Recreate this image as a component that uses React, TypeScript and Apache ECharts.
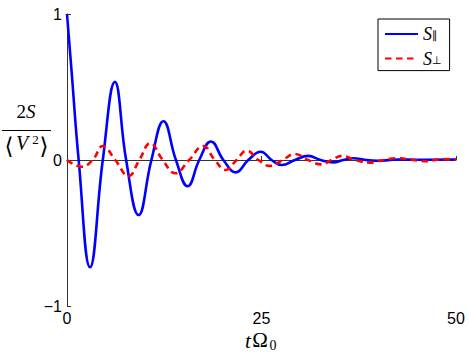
import React, { useEffect, useRef } from "react";
import * as echarts from "echarts";

// S_parallel (blue, solid): time points and values
const tPar = [0, 0.6, 1.5, 2.96, 4.6, 6.15, 7.6, 9.2, 10.85, 12.4, 14.0, 15.5, 17.0, 18.5, 20.1, 21.7, 23.3, 24.9, 26.3, 27.6, 29.3, 31.0, 32.6, 34.2, 35.5, 36.8, 38.4, 40.0, 42.5, 45.0, 50.0];
const sPar = [1.0, 0.6, 0.0, -0.735, 0.0, 0.535, 0.0, -0.377, 0.0, 0.265, 0.0, -0.18, 0.0, 0.127, 0.0, -0.085, 0.0, 0.057, 0.0, -0.034, 0.0, 0.028, 0.0, -0.016, 0.0, 0.012, 0.0, -0.005, 0.003, 0.002, 0.003];

// S_perp (red, dashed)
const tPerp = [0, 1.9, 3.3, 4.6, 6.2, 7.9, 9.3, 10.7, 12.3, 13.9, 15.7, 17.5, 19.0, 20.4, 21.8, 23.1, 24.6, 26.1, 27.7, 29.3, 31.0, 32.7, 34.0, 35.3, 37.1, 38.9, 40.7, 42.6, 44.5, 46.4, 47.3, 48.3, 50.0];
const sPerp = [0.0, -0.046, 0.0, 0.096, 0.0, -0.11, 0.0, 0.115, 0.0, -0.091, 0.0, 0.096, 0.0, -0.068, 0.0, 0.064, 0.0, -0.041, 0.0, 0.041, 0.0, -0.03, 0.0, 0.027, 0.0, -0.018, 0.0, 0.012, 0.0, -0.009, 0.0, 0.006, 0.002];

const xTicks = [0, 25, 50];
const yTicks = [-1, 0, 1];
const seriesNames = ["S∥", "S⊥"];

const SERIF = "'Liberation Serif', 'DejaVu Serif', serif";
const SANS = "'Liberation Sans', Arial, sans-serif";

export default function App() {
  const ref = useRef<HTMLDivElement>(null);
  useEffect(() => {
    if (!ref.current) return;
    const chart = echarts.init(ref.current, null, { renderer: "svg" });
    const parData = tPar.map((t, i) => [t, sPar[i]]);
    const perpData = tPerp.map((t, i) => [t, sPerp[i]]);
    const axisColor = "#333";
    chart.setOption({
      animation: false,
      backgroundColor: "#fff",
      grid: { left: 67, right: 13, top: 14, bottom: 49, containLabel: false, outerBoundsMode: "none" },
      xAxis: {
        type: "value",
        min: xTicks[0],
        max: xTicks[xTicks.length - 1],
        interval: xTicks[1] - xTicks[0],
        axisLine: { show: true, lineStyle: { color: axisColor, width: 1 } },
        axisTick: { show: true, inside: true, length: 4, lineStyle: { color: axisColor } },
        splitLine: { show: false },
        axisLabel: { color: "#000", fontSize: 16, fontFamily: SANS, margin: 4 },
      },
      yAxis: {
        type: "value",
        min: yTicks[0],
        max: yTicks[yTicks.length - 1],
        interval: yTicks[1] - yTicks[0],
        axisLine: { show: true, lineStyle: { color: axisColor, width: 1 } },
        axisTick: { show: true, inside: true, length: 4, lineStyle: { color: axisColor } },
        splitLine: { show: false },
        axisLabel: {
          color: "#000",
          fontSize: 16,
          fontFamily: SANS,
          margin: 5,
          formatter: (v: number) => (v < 0 ? "\u2212" + Math.abs(v) : String(v)),
        },
      },
      legend: {
        orient: "vertical",
        left: 378,
        top: 19,
        padding: [4, 8, 3, 6],
        borderColor: "#000",
        borderWidth: 1,
        backgroundColor: "#fff",
        itemWidth: 33,
        itemHeight: 14,
        itemGap: 4.6,
        itemTextGap: 5,
        data: seriesNames,
        itemStyle: { opacity: 0, borderWidth: 0, color: "transparent" },
        formatter: (name: string) => (name === seriesNames[0] ? "{i|S}{s|∥}" : "{i|S}{s|⊥}"),
        textStyle: {
          rich: {
            i: { fontFamily: SERIF, fontStyle: "italic", fontSize: 18, lineHeight: 14, color: "#000" },
            s: { fontFamily: "'DejaVu Sans', sans-serif", fontSize: 11, lineHeight: 8, padding: [7, 0, 0, 0], verticalAlign: "bottom", color: "#000" },
          },
        },
      },
      series: [
        {
          name: seriesNames[0],
          type: "line",
          data: parData,
          smooth: 0.45,
          symbol: "none",
          showSymbol: false,
          lineStyle: { color: "#0000ff", width: 2.6 },
          itemStyle: { color: "#0000ff" },
          z: 3,
        },
        {
          name: seriesNames[1],
          type: "line",
          data: perpData,
          smooth: 0.45,
          symbol: "none",
          showSymbol: false,
          lineStyle: { color: "#ff0000", width: 2.6, type: [6.5, 4.5] },
          itemStyle: { color: "#ff0000" },
          z: 4,
        },
      ],
      graphic: [
        // y-axis label: 2S / <V^2>
        { type: "text", x: 26, y: 111, style: { text: "2{i|S}", fill: "#000", font: `19px ${SERIF}`, align: "center", verticalAlign: "middle", rich: { i: { fontStyle: "italic", fontSize: 19, fontFamily: SERIF } } } },
        { type: "line", shape: { x1: 2, y1: 130.5, x2: 51, y2: 130.5 }, style: { stroke: "#000", lineWidth: 1 } },
        { type: "text", x: 9, y: 146, style: { text: "⟨", fill: "#000", font: `23px 'DejaVu Serif', serif`, align: "center", verticalAlign: "middle" } },
        { type: "text", x: 22, y: 143, style: { text: "V", fill: "#000", font: `italic 20px ${SERIF}`, align: "center", verticalAlign: "middle" } },
        { type: "text", x: 35.5, y: 139, style: { text: "2", fill: "#000", font: `13px ${SERIF}`, align: "center", verticalAlign: "middle" } },
        { type: "text", x: 44, y: 146, style: { text: "⟩", fill: "#000", font: `23px 'DejaVu Serif', serif`, align: "center", verticalAlign: "middle" } },
        // x-axis label: tΩ0
        { type: "text", x: 248, y: 341, style: { text: "t", fill: "#000", font: `italic 21px ${SERIF}`, align: "center", verticalAlign: "middle" } },
        { type: "text", x: 260, y: 340, style: { text: "Ω", fill: "#000", font: `21px ${SERIF}`, align: "center", verticalAlign: "middle" } },
        { type: "text", x: 273, y: 345, style: { text: "0", fill: "#000", font: `14px ${SERIF}`, align: "center", verticalAlign: "middle" } },
      ],
    });
    return () => chart.dispose();
  }, []);
  return <div ref={ref} style={{ position: "fixed", left: 0, top: 0, width: 469, height: 355 }} />;
}
